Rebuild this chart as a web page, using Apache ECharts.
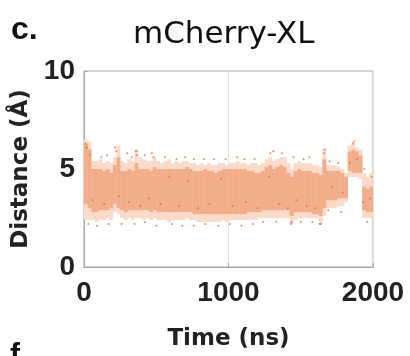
<!DOCTYPE html>
<html><head><meta charset="utf-8">
<script src="https://cdn.jsdelivr.net/npm/echarts@6/dist/echarts.min.js"></script>
<style>html,body{margin:0;padding:0;background:#fff}#c{width:410px;height:356px}</style>
</head><body><div id="c"></div>
<script>
// Time bins (ns), start of each 25 ns window
const binStart = [0,25,50,75,100,125,150,175,200,225,250,275,300,325,350,375,400,425,450,475,
  500,525,550,575,600,625,650,675,700,725,750,775,800,825,850,875,900,925,950,975,
  1000,1025,1050,1075,1100,1125,1150,1175,1200,1225,1250,1275,1300,1325,1350,1375,1400,1425,1450,1475,
  1500,1525,1550,1575,1600,1625,1650,1675,1700,1725,1750,1775,1800,1825,1850,1875,1900,1925,1950,1975];
const binWidth = 25;
// Sparse envelope of the distance cloud (Å)
const outerLo = [2.4,2.4,2.4,2.3,2.4,2.4,2.5,2.4,2.8,2.7, 2.5,2.4,2.5,2.4,2.5,2.5,2.4,2.5,2.4,2.5,
  2.4,2.4,2.4,2.3,2.4,2.4,2.4,2.4,2.5,2.4, 2.4,2.3,2.3,2.3,2.3,2.3,2.3,2.3,2.4,2.3,
  2.4,2.4,2.4,2.4,2.4,2.4,2.4,2.4,2.5,2.5, 2.5,2.5,2.5,2.5,2.5,2.5,2.5,2.2,2.4,2.5,
  2.5,2.5,2.5,2.5,2.5,2.2,2.6,3.0,3.0,3.0, 3.1,3.1,3.3,4.6,4.6,4.6,4.5,2.5,2.5,2.5];
const outerHi = [6.5,6.4,5.4,5.4,5.5,5.3,5.4,5.3,5.6,6.2, 5.4,5.3,5.5,5.4,6.0,5.6,5.5,5.4,5.4,5.6,
  5.4,5.3,5.4,5.5,5.3,5.4,5.3,5.4,5.4,5.3, 5.3,5.2,5.3,5.2,5.3,5.2,5.2,5.3,5.3,5.2,
  5.3,5.3,5.4,5.3,5.3,5.2,5.3,5.3,5.2,5.3, 5.5,5.6,5.4,5.5,5.6,5.6,5.3,5.0,5.3,5.4,
  5.3,5.3,5.3,5.2,5.2,5.1,6.0,5.2,5.2,5.2, 5.1,5.0,4.8,6.2,6.3,6.1,6.0,4.8,4.6,4.8];
// Dense core of the cloud (Å)
const coreLo = [3.2,3.0,2.8,2.8,2.9,2.9,2.9,3.0,3.2,3.0, 2.9,2.8,2.9,2.9,2.9,2.9,2.9,2.9,2.8,2.9,
  2.8,2.8,2.8,2.8,2.8,2.8,2.8,2.8,2.8,2.8, 2.7,2.7,2.7,2.7,2.7,2.7,2.7,2.7,2.7,2.7,
  2.7,2.7,2.7,2.7,2.7,2.8,2.8,2.8,2.8,2.9, 2.9,2.9,2.9,2.9,2.9,2.9,2.9,2.6,2.8,2.8,
  2.8,2.8,2.8,2.7,2.7,2.6,3.0,3.4,3.4,3.4, 3.5,3.5,3.5,4.9,4.8,4.8,4.8,2.9,2.8,2.8];
const coreHi = [6.3,6.0,5.0,5.0,5.0,4.9,5.0,4.8,5.2,5.6, 4.9,4.9,5.0,4.9,5.3,5.0,5.0,5.0,4.9,5.1,
  5.0,5.0,5.0,5.0,5.0,5.0,5.0,5.0,5.1,5.0, 4.9,4.9,4.9,5.0,4.9,4.9,4.8,4.9,5.0,5.0,
  5.0,5.0,5.0,5.0,5.0,4.9,4.9,4.8,4.8,4.9, 5.1,5.2,5.0,5.1,5.2,5.1,4.8,4.6,4.9,5.0,
  4.9,4.9,4.9,4.8,4.8,4.7,5.5,4.9,4.9,4.9, 4.9,4.8,4.6,5.9,6.0,5.9,5.7,4.1,4.0,4.1];
// Individual scattered frames
const dotTime = [10,20,40,120,160,215,222,300,330,360,365,420,470,480,560,640,700,760,830,900,980,1060,1110,1180,1290,1310,1370,1450,1520,1560,1660,1665,1700,1760,1860,1870,1940,1990,
  30,90,170,260,350,420,500,610,680,760,840,930,1010,1090,1170,1240,1330,1432,1436,1500,1580,1632,1638,1690,1780,1960,
  60,140,240,310,390,450,530,590,660,720,790,870,950,1030,1120,1200,1280,1350,1410,1470,1540,1600,1720,1790,1840,1890,1930,1980];
const dotDist = [6.3,6.1,5.7,5.6,5.7,6.1,5.9,5.8,5.6,5.9,5.7,5.7,5.8,5.6,5.6,5.5,5.6,5.5,5.5,5.5,5.5,5.6,5.5,5.5,5.8,5.9,5.8,5.6,5.5,5.6,5.8,6.0,5.4,5.3,6.3,6.4,5.0,4.6,
  2.2,2.1,2.2,2.2,2.2,2.3,2.1,2.2,2.1,2.1,2.2,2.1,2.2,2.1,2.2,2.3,2.3,2.2,2.3,2.3,2.3,2.2,2.2,2.9,2.8,2.3,
  3.4,3.2,3.6,3.3,3.1,3.5,3.2,4.6,3.1,4.4,3.0,3.2,4.5,3.1,3.3,3.0,4.6,3.2,3.0,3.4,3.1,3.0,4.1,3.8,5.3,5.5,3.3,3.5];

const xTicks = [0, 1000, 2000];
const yTicks = [0, 5, 10];

const outerData = binStart.map((t, i) => [t, t + binWidth, outerLo[i], outerHi[i]]);
const coreData = binStart.map((t, i) => [t, t + binWidth, coreLo[i], coreHi[i]]);
const dots = dotTime.map((t, i) => [t, dotDist[i]]);

function bandItem(params, api) {
  const p0 = api.coord([api.value(0), api.value(3)]);
  const p1 = api.coord([api.value(1), api.value(2)]);
  return {type: 'rect', shape: {x: p0[0], y: p0[1], width: p1[0] - p0[0] + 0.3, height: p1[1] - p0[1]},
    style: {fill: api.visual('color')}};
}

const chart = echarts.init(document.getElementById('c'), null, {renderer: 'canvas'});
chart.setOption({
  animation: false,
  backgroundColor: '#fff',
  title: {text: 'mCherry-XL', left: 128, top: 14,
    textStyle: {fontFamily: 'DejaVu Sans', fontWeight: 'normal', fontSize: 31, color: '#111'}},
  graphic: [
    {type: 'text', left: 11, top: 14, style: {text: 'c.', fontSize: 32, fontWeight: 'bold', fontFamily: 'Liberation Sans', fill: '#111'}},
    {type: 'text', left: 10, top: 341, style: {text: 'f', fontSize: 30, fontWeight: 'bold', fontFamily: 'Liberation Sans', fill: '#111'}}
  ],
  grid: {left: 84, right: 37, top: 71, bottom: 85, show: true, borderColor: '#a8a8a8', borderWidth: 1, backgroundColor: 'transparent'},
  xAxis: {type: 'value', min: xTicks[0], max: xTicks[2], interval: 1000,
    name: 'Time (ns)', nameLocation: 'middle', nameGap: 61,
    nameTextStyle: {fontFamily: 'DejaVu Sans', fontWeight: 'bold', fontSize: 23, color: '#222'},
    axisLine: {lineStyle: {color: '#a8a8a8'}},
    axisTick: {inside: true, length: 4, lineStyle: {color: '#a8a8a8'}},
    splitLine: {show: true, lineStyle: {color: '#e2e2e2', width: 1}},
    axisLabel: {fontFamily: 'Liberation Sans', fontWeight: 'bold', fontSize: 28, color: '#222', margin: 12,
      formatter: v => String(v)}},
  yAxis: {type: 'value', min: yTicks[0], max: yTicks[2], interval: 5,
    name: 'Distance (Å)', nameLocation: 'middle', nameGap: 50,
    nameTextStyle: {fontFamily: 'DejaVu Sans', fontWeight: 'bold', fontSize: 23, color: '#222'},
    axisLine: {show: true, lineStyle: {color: '#a8a8a8'}},
    axisTick: {inside: true, length: 4, lineStyle: {color: '#a8a8a8'}},
    splitLine: {show: false},
    axisLabel: {fontFamily: 'Liberation Sans', fontWeight: 'bold', fontSize: 28, color: '#222', margin: 9,
      formatter: v => String(v)}},
  series: [
    {type: 'custom', renderItem: bandItem, data: outerData, encode: {x: [0, 1], y: [2, 3]}, itemStyle: {color: '#fadac8'}, clip: true, silent: true},
    {type: 'custom', renderItem: bandItem, data: coreData, encode: {x: [0, 1], y: [2, 3]}, itemStyle: {color: '#f2ae8a'}, clip: true, silent: true},
    {type: 'scatter', data: dots, symbolSize: 2, itemStyle: {color: '#e36a34', opacity: 0.8}, silent: true}
  ]
});
</script></body></html>
